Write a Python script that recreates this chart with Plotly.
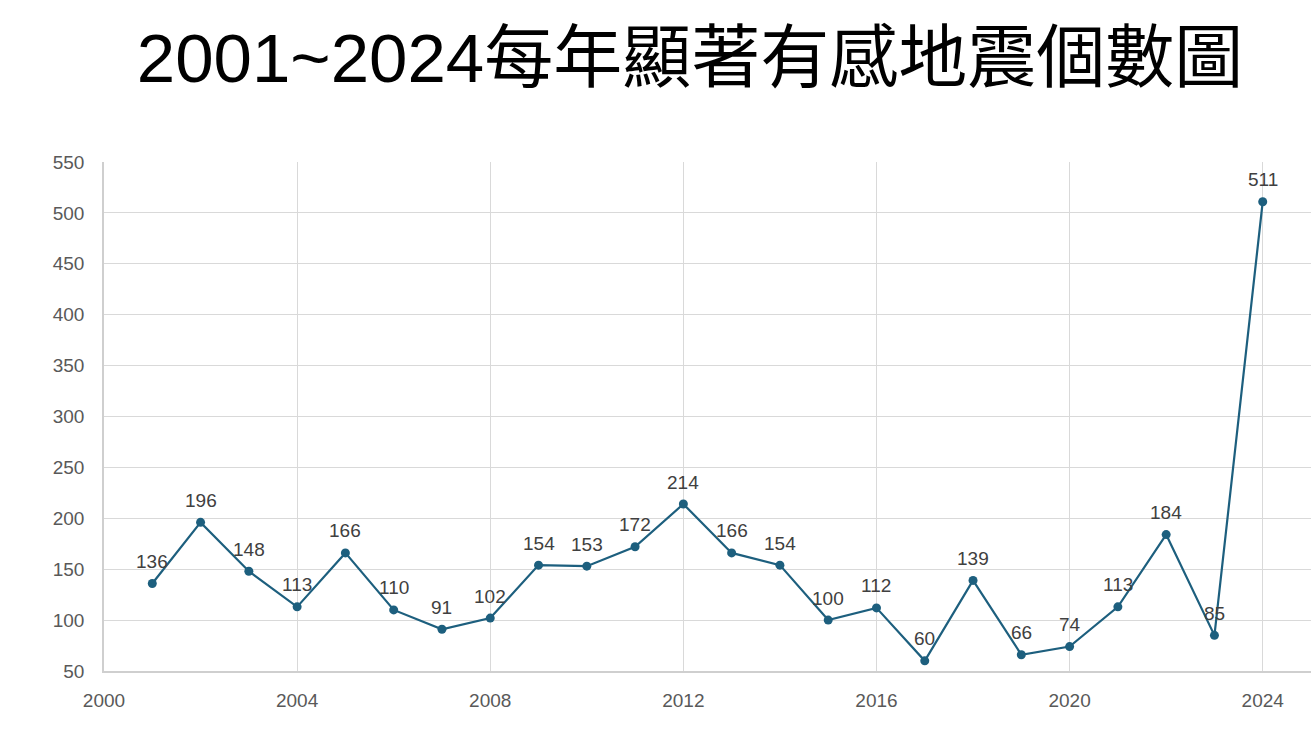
import plotly.graph_objects as go

years = list(range(2001, 2025))
counts = [136, 196, 148, 113, 166, 110, 91, 102, 154, 153, 172, 214,
          166, 154, 100, 112, 60, 139, 66, 74, 113, 184, 85, 511]
title_text = "2001~2024每年顯著有感地震個數圖"

LINE = "#1d5f7e"

fig = go.Figure()
fig.add_trace(go.Scatter(
    x=years, y=counts, mode="lines+markers",
    line=dict(color=LINE, width=2.2),
    marker=dict(color=LINE, size=9),
    hoverinfo="x+y", showlegend=False, cliponaxis=False,
))

for xv, yv in zip(years, counts):
    fig.add_annotation(x=xv, y=yv, text=str(yv), showarrow=False,
                       yshift=22, yanchor="middle",
                       font=dict(size=19, color="#404040", family="Liberation Sans, Arial, sans-serif"))

fig.update_layout(
    width=1311, height=744,
    margin=dict(l=104, r=0, t=162, b=73),
    paper_bgcolor="white", plot_bgcolor="white",
    title=dict(text=title_text, x=690/1311, xref="container", xanchor="center",
               y=1-58/744, yref="container", yanchor="middle",
               font=dict(size=69, color="black",
                         family="Liberation Sans, Arial, Noto Sans CJK TC, sans-serif")),
    font=dict(family="Liberation Sans, Arial, sans-serif"),
)
fig.update_xaxes(range=[2000, 2025], tick0=2000, dtick=4, showgrid=True,
                 gridcolor="#d9d9d9", gridwidth=1, showline=True, linecolor="#cfcfcf",
                 linewidth=1.5, zeroline=False, ticks="", ticklabelstandoff=11,
                 tickfont=dict(size=19, color="#595959"))
fig.update_yaxes(range=[50, 550], tick0=50, dtick=50, showgrid=True,
                 gridcolor="#d9d9d9", gridwidth=1, showline=True, linecolor="#cfcfcf",
                 linewidth=1.5, zeroline=False, ticks="", ticklabelstandoff=14,
                 tickfont=dict(size=19, color="#595959"))

fig.write_html("out.html")
